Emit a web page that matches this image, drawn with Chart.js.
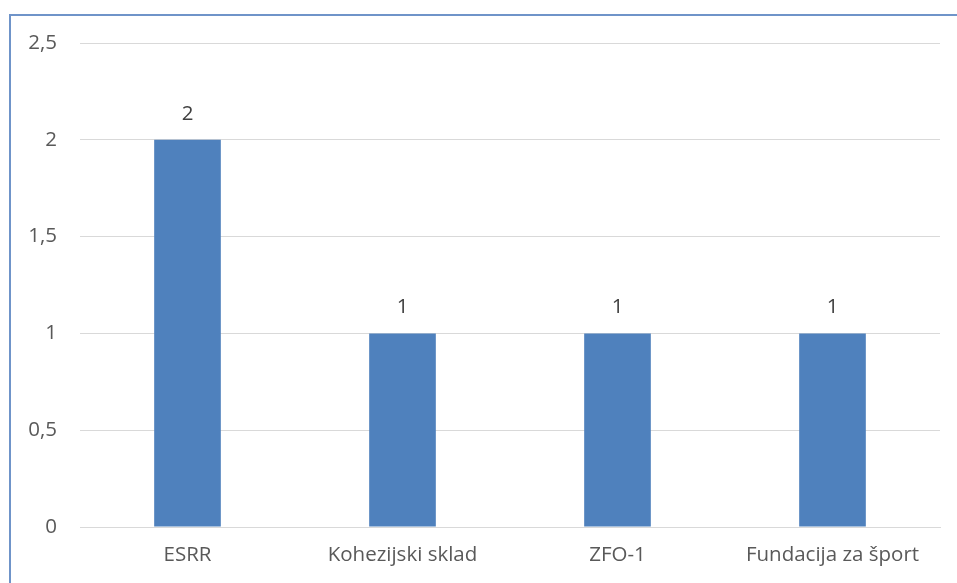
<!DOCTYPE html>
<html>
<head>
<meta charset="utf-8">
<script src="https://cdn.jsdelivr.net/npm/chart.js@4"></script>
<style>
    html, body { margin: 0; padding: 0; background: #fff; overflow: hidden; }
    #wrap { position: relative; width: 957px; height: 583px; overflow: hidden; }
    #frame {
        position: absolute; left: 9px; top: 14px; width: 1200px; height: 800px;
        border-left: 2px solid #6f94c9; border-top: 2px solid #6f94c9;
        pointer-events: none;
    }
    canvas { position: absolute; left: 0; top: 0; }
</style>
</head>
<body>
<div id="wrap">
    <canvas id="barChart" width="957" height="583"></canvas>
    <div id="frame"></div>
</div>
<script>
// Chart data
const categories = ['ESRR', 'Kohezijski sklad', 'ZFO-1', 'Fundacija za šport'];
const values = [2, 1, 1, 1];
const yTicks = [0, 0.5, 1, 1.5, 2, 2.5];

const fontFamily = '"Open Sans", Lato, sans-serif';
const fontSize = 20.5;

// Draw value labels above bars
const valueLabels = {
    id: 'valueLabels',
    afterDatasetsDraw(chart) {
        const ctx = chart.ctx;
        const meta = chart.getDatasetMeta(0);
        ctx.save();
        ctx.font = fontSize + 'px ' + fontFamily;
        ctx.fillStyle = '#404040';
        ctx.textAlign = 'center';
        ctx.textBaseline = 'middle';
        meta.data.forEach((bar, i) => {
            ctx.fillText(String(values[i]).replace('.', ','), bar.x, bar.y - 26);
        });
        ctx.restore();
    }
};

function initBarChart() {
    const ctx = document.getElementById('barChart');
    if (!ctx) return;

    new Chart(ctx, {
        type: 'bar',
        data: {
            labels: categories,
            datasets: [{
                data: values,
                backgroundColor: '#4f81bd',
                categoryPercentage: 1,
                barPercentage: 0.31
            }]
        },
        options: {
            responsive: false,
            animation: false,
            layout: { padding: { left: 10, right: 17, top: 43, bottom: 0 } },
            plugins: {
                legend: { display: false },
                tooltip: { enabled: false }
            },
            scales: {
                x: {
                    grid: { display: false, drawTicks: false },
                    border: { color: '#d9d9d9', width: 1 },
                    ticks: {
                        color: '#595959',
                        font: { family: fontFamily, size: fontSize },
                        padding: 16,
                        maxRotation: 0
                    },
                    afterFit(scale) { scale.height = 56; }
                },
                y: {
                    min: 0,
                    max: 2.5,
                    afterBuildTicks(scale) {
                        scale.ticks = yTicks.map(v => ({ value: v }));
                    },
                    grid: { color: '#d9d9d9', drawTicks: false },
                    border: { display: false },
                    ticks: {
                        color: '#595959',
                        font: { family: fontFamily, size: fontSize },
                        padding: 23,
                        callback: v => String(v).replace('.', ',')
                    },
                    afterFit(scale) { scale.width = 70; }
                }
            }
        },
        plugins: [valueLabels]
    });
}

initBarChart();
</script>
</body>
</html>
